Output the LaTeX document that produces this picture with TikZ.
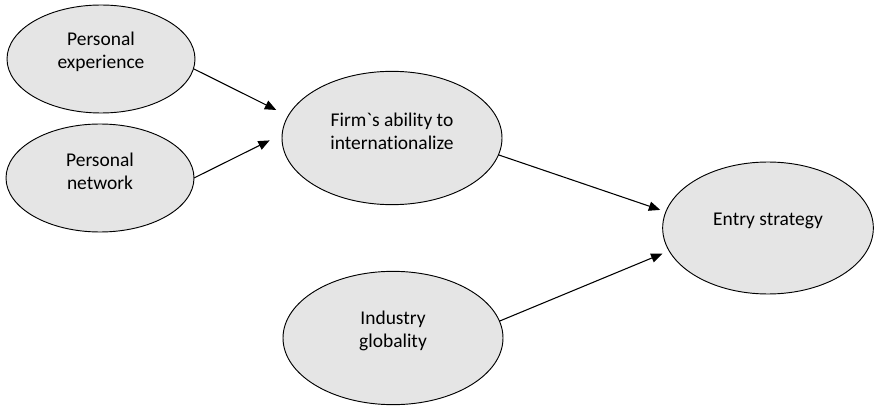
\documentclass[tikz,border=0pt]{standalone}
\usepackage{fontspec}
\setmainfont{Carlito}[Ligatures={NoCommon}]
\usepackage{tikz}
\usetikzlibrary{shapes.geometric, arrows.meta}

\tikzset{
    oval/.style={ellipse, draw, fill=gray!20, line width=0.7pt, inner sep=0pt, outer sep=0pt},
    small oval/.style={oval, minimum width=141pt, minimum height=81pt},
    big oval/.style={oval, minimum width=165pt, minimum height=100pt},
    txt/.style={align=center, font=\fontsize{14.6}{17.6}\selectfont, yshift=5.2pt},
    link/.style={line width=0.8pt, -{Triangle[length=8.5pt,width=7pt]}}
}

\begin{document}
\begin{tikzpicture}[x=0.75pt, y=-0.75pt]
        \useasboundingbox (0, 0) rectangle (874, 406);

        % Ellipses
        \node[small oval, label={[txt]center:Personal\\experience}] (exper) at (101, 59) {};
        \node[small oval, label={[txt]center:Personal\\network}] (netw) at (100, 178) {};
        \node[big oval, label={[txt]center:Firm\textasciigrave s ability to\\internationalize}] (ability) at (392, 138) {};
        \node[big oval, label={[txt]center:Industry\\globality}] (industry) at (393, 338) {};
        \node[oval, minimum width=158pt, minimum height=99pt, label={[txt]center:Entry strategy}] (entry) at (768, 228) {};

        % Arrows
        \draw[link, shorten >=10pt] (exper.-6) -- (ability.168);
        \draw[link, shorten >=10.5pt] (netw.0) -- (ability.178);
        \draw[link, shorten >=4.5pt] (ability.-9) -- (entry.171);
        \draw[link, shorten >=5.5pt] (industry.9) -- (entry.-167);
\end{tikzpicture}
\end{document}
